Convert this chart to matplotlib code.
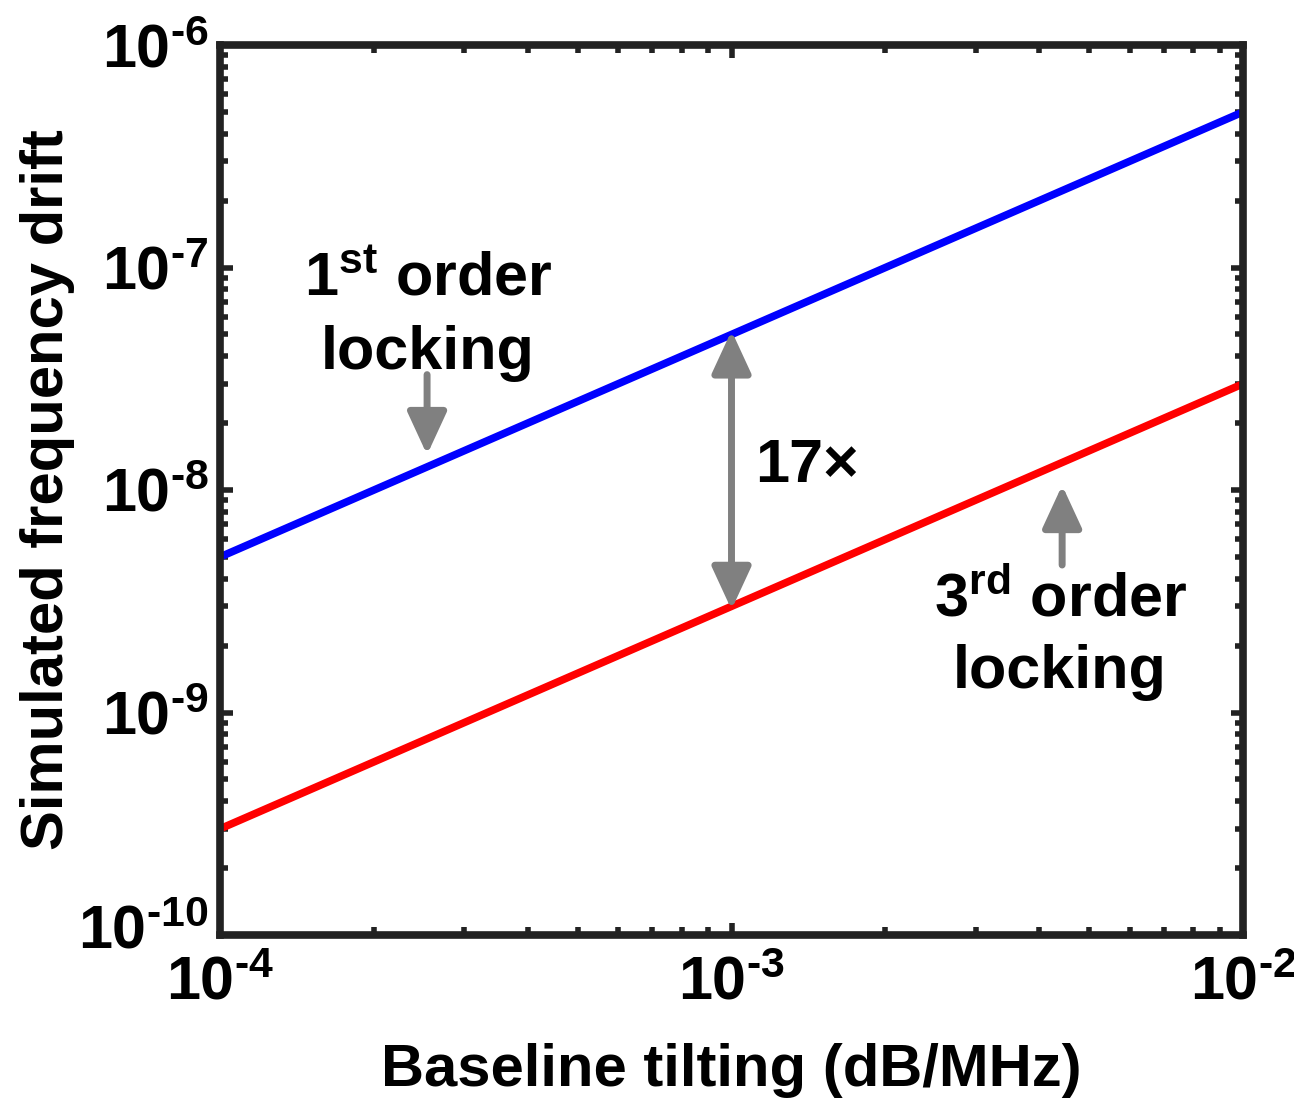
import numpy as np
import matplotlib.pyplot as plt
import matplotlib.transforms as mtransforms

# data (log-log, both lines slope 1)
x_tilt = [1e-4, 1e-2]
drift_1st = [5e-9, 5e-7]
drift_3rd = [3e-10, 3e-8]

xticks = [1e-4, 1e-3, 1e-2]
yticks = [1e-10, 1e-9, 1e-8, 1e-7, 1e-6]

plt.rcParams['font.family'] = ['Liberation Sans', 'DejaVu Sans']
plt.rcParams['font.weight'] = 'bold'
plt.rcParams['mathtext.fontset'] = 'custom'
plt.rcParams['mathtext.rm'] = 'Liberation Sans:bold'
plt.rcParams['mathtext.bf'] = 'Liberation Sans:bold'
plt.rcParams['mathtext.it'] = 'Liberation Sans:bold'
plt.rcParams['mathtext.default'] = 'bf'


def pow_label(v):
    # hyphen instead of the mathtext minus sign, like the original
    return '$10^{\\text{-%d}}$' % abs(int(round(np.log10(v))))


fig = plt.figure(figsize=(12.94, 11.02), dpi=100)
ax = fig.add_axes([220 / 1294, 1 - 935 / 1102, 1023 / 1294, 890 / 1102])

ax.plot(x_tilt, drift_1st, color='#0000ff', lw=5.5, solid_capstyle='butt')
ax.plot(x_tilt, drift_3rd, color='#ff0000', lw=5.5, solid_capstyle='butt')

ax.set_xscale('log')
ax.set_yscale('log')
ax.set_xlim(1e-4, 1e-2)
ax.set_ylim(1e-10, 1e-6)
ax.set_xticks(xticks)
ax.set_yticks(yticks)
ax.set_xticklabels([pow_label(v) for v in xticks])
ax.set_yticklabels([pow_label(v) for v in yticks])

for s in ax.spines.values():
    s.set_linewidth(5.5)
    s.set_color('#222222')
ax.tick_params(which='both', direction='in', top=True, right=True, color='#222222')
ax.tick_params(which='major', length=9, width=4, labelsize=44)
ax.tick_params(axis='x', which='major', pad=15)
ax.tick_params(axis='y', which='major', pad=8)
ax.tick_params(which='minor', length=6, width=4)
# nudge the bottom y label up a few pixels so it clears 10^-4
lab = ax.get_yticklabels()[0]
lab.set_transform(lab.get_transform() +
                  mtransforms.ScaledTranslation(0, 6 / 72, fig.dpi_scale_trans))

ax.set_xlabel('Baseline tilting (dB/MHz)', fontsize=43, fontweight='bold', labelpad=22)
ax.set_ylabel('Simulated frequency drift', fontsize=43, fontweight='bold', labelpad=2)

grey = '#808080'
arrow = dict(arrowstyle='-|>,head_length=1.3,head_width=0.6', color=grey, lw=5,
             shrinkA=0, shrinkB=0, mutation_scale=20)
ax.annotate('', xy=(2.54e-4, 1.44e-8), xytext=(2.54e-4, 3.3e-8), arrowprops=arrow)
ax.annotate('', xy=(4.43e-3, 1.05e-8), xytext=(4.43e-3, 4.6e-9), arrowprops=arrow)
ax.annotate('', xy=(1e-3, 2.9e-9), xytext=(1e-3, 5.2e-8),
            arrowprops=dict(arrowstyle='<|-|>,head_length=1.3,head_width=0.6', color=grey,
                            lw=5, shrinkA=0, shrinkB=0, mutation_scale=20))

ax.text(2.55e-4, 6.0e-8, '$1^{st}$ order\nlocking', fontsize=44, fontweight='bold',
        ha='center', va='center', linespacing=1.35)
ax.text(1.11e-3, 1.27e-8, '17×', fontsize=44, fontweight='bold', ha='left', va='center')
ax.text(4.39e-3, 2.2e-9, '$3^{rd}$ order\nlocking', fontsize=44, fontweight='bold',
        ha='center', va='center', linespacing=1.35)

fig.savefig('out.png', dpi=100)
